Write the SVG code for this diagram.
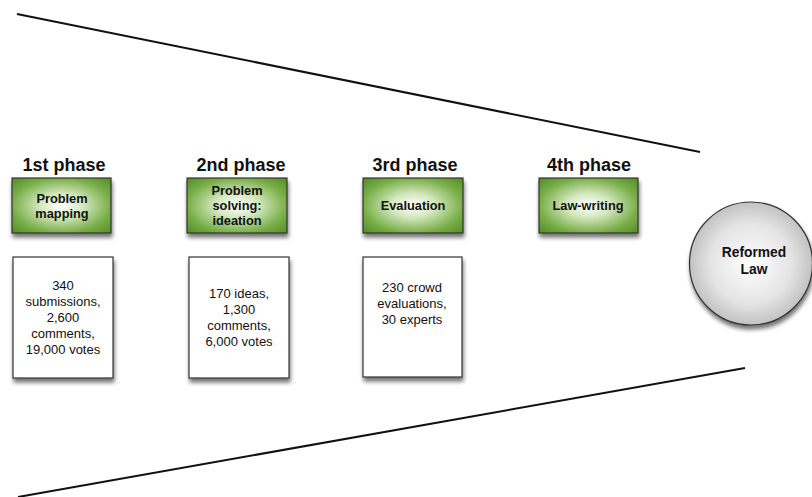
<svg xmlns="http://www.w3.org/2000/svg" width="812" height="497" viewBox="0 0 812 497">
  <defs>
    <radialGradient id="greenFill" cx="50%" cy="50%" r="72%">
      <stop offset="0" stop-color="#ffffff"/>
      <stop offset="0.3" stop-color="#d4e8bf"/>
      <stop offset="0.7" stop-color="#76ad45"/>
      <stop offset="1" stop-color="#4f8a24"/>
    </radialGradient>
    <radialGradient id="greyFill" cx="50%" cy="50%" r="55%">
      <stop offset="0" stop-color="#ffffff"/>
      <stop offset="0.6" stop-color="#e4e4e4"/>
      <stop offset="1" stop-color="#b8b8b8"/>
    </radialGradient>
    <filter id="shadow" x="-20%" y="-20%" width="140%" height="150%">
      <feGaussianBlur in="SourceAlpha" stdDeviation="2.2"/>
      <feOffset dx="1" dy="4" result="b"/>
      <feComponentTransfer><feFuncA type="linear" slope="0.55"/></feComponentTransfer>
      <feMerge><feMergeNode/><feMergeNode in="SourceGraphic"/></feMerge>
    </filter>
  </defs>
  <style>
    text { font-family: "Liberation Sans", Arial, sans-serif; fill: #111; text-anchor: middle; }
    .phase { font-size: 18px; font-weight: bold; }
    .step { font-size: 12.8px; font-weight: bold; }
    .stat { font-size: 13px; }
    .green { fill: url(#greenFill); stroke: #333; stroke-width: 1.2; filter: url(#shadow); }
    .card { fill: #fff; stroke: #333; stroke-width: 1.2; filter: url(#shadow); }
    .funnel { stroke: #111; stroke-width: 2; fill: none; }
  </style>

  <rect width="812" height="497" fill="#fff"/>

  <!-- funnel edges -->
  <g id="connectors">
    <line class="funnel" x1="17" y1="14" x2="700" y2="152"/>
    <line class="funnel" x1="18" y1="497" x2="745" y2="368"/>
  </g>

  <!-- phase 1 -->
  <g id="phase1">
    <text class="phase" x="64" y="171">1st phase</text>
    <rect class="green" x="12" y="178" width="99" height="55"/>
    <text class="step" x="62" y="203">Problem</text>
    <text class="step" x="62" y="218">mapping</text>
    <rect class="card" x="13" y="257" width="100" height="121"/>
    <text class="stat" x="63" y="290">340</text>
    <text class="stat" x="63" y="306">submissions,</text>
    <text class="stat" x="63" y="322">2,600</text>
    <text class="stat" x="63" y="338">comments,</text>
    <text class="stat" x="63" y="354">19,000 votes</text>
  </g>

  <!-- phase 2 -->
  <g id="phase2">
    <text class="phase" x="241" y="171">2nd phase</text>
    <rect class="green" x="187" y="178" width="100" height="55"/>
    <text class="step" x="237" y="195">Problem</text>
    <text class="step" x="237" y="210">solving:</text>
    <text class="step" x="237" y="225">ideation</text>
    <rect class="card" x="189" y="257" width="100" height="121"/>
    <text class="stat" x="239" y="298">170 ideas,</text>
    <text class="stat" x="239" y="314">1,300</text>
    <text class="stat" x="239" y="330">comments,</text>
    <text class="stat" x="239" y="346">6,000 votes</text>
  </g>

  <!-- phase 3 -->
  <g id="phase3">
    <text class="phase" x="415" y="171">3rd phase</text>
    <rect class="green" x="363" y="178" width="100" height="55"/>
    <text class="step" x="413" y="210">Evaluation</text>
    <rect class="card" x="363" y="257" width="99" height="120"/>
    <text class="stat" x="412" y="292">230 crowd</text>
    <text class="stat" x="412" y="308">evaluations,</text>
    <text class="stat" x="412" y="324">30 experts</text>
  </g>

  <!-- phase 4 -->
  <g id="phase4">
    <text class="phase" x="589" y="171">4th phase</text>
    <rect class="green" x="539" y="178" width="99" height="55"/>
    <text class="step" x="588" y="210">Law-writing</text>
  </g>

  <!-- outcome -->
  <g id="reformed-law">
    <circle cx="751" cy="263.5" r="61.5" fill="url(#greyFill)" stroke="#333" stroke-width="1.2" filter="url(#shadow)"/>
    <text class="step" style="font-size:13.8px" x="754" y="257">Reformed</text>
    <text class="step" style="font-size:13.8px" x="754" y="274">Law</text>
  </g>
</svg>
